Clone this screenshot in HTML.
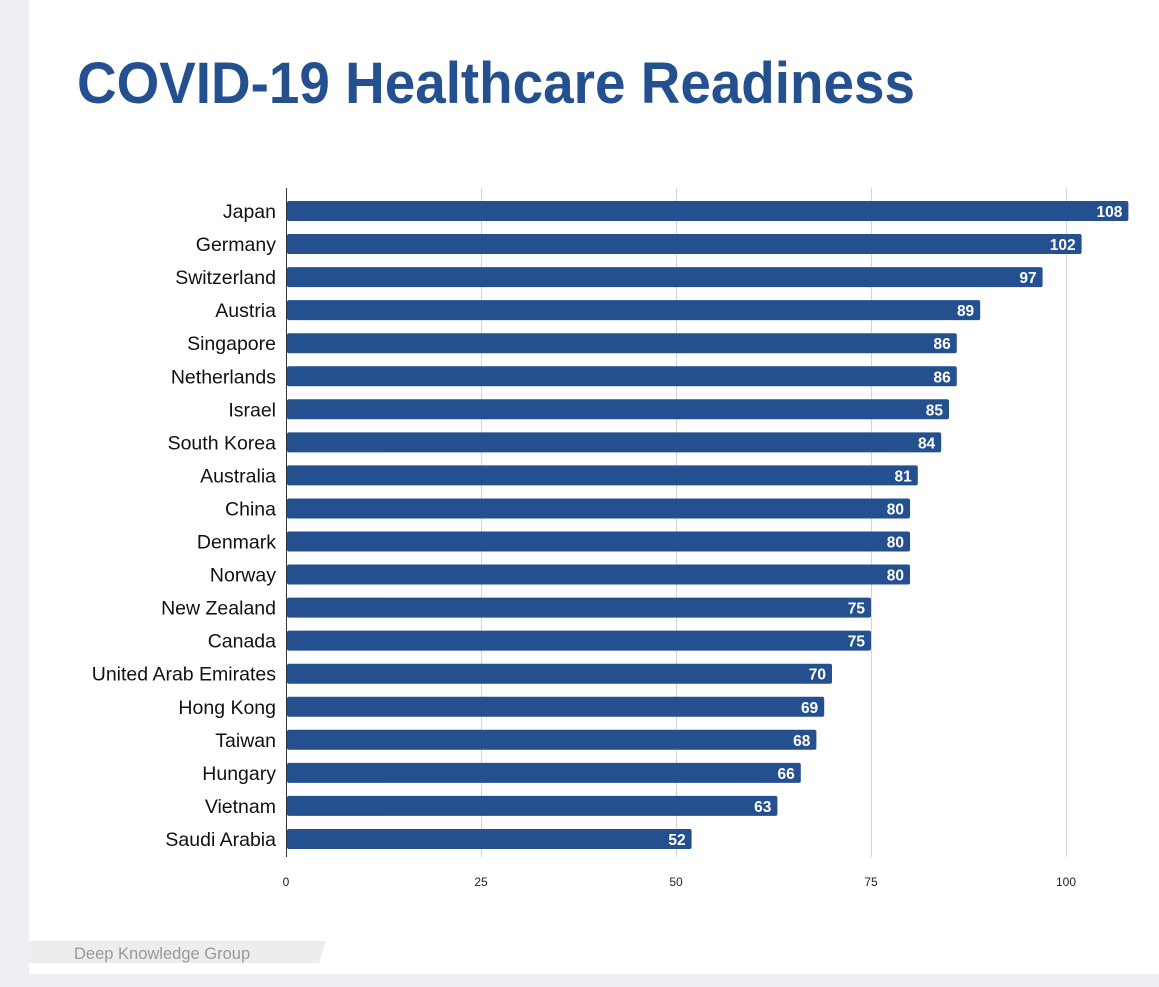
<!DOCTYPE html>
<html><head><meta charset="utf-8"><style>
html,body{margin:0;padding:0;background:#eeeef2;}
svg{display:block;font-family:"Liberation Sans",sans-serif;}
</style></head><body>
<svg id="chart" width="1159" height="987" viewBox="0 0 1159 987">
<rect x="0" y="0" width="1159" height="987" fill="#eeeef2"/>
<rect x="29" y="0" width="1135" height="974" fill="#ffffff"/>
<text x="77" y="103" font-size="58" font-weight="bold" fill="#24508f" textLength="838" lengthAdjust="spacingAndGlyphs">COVID-19 Healthcare Readiness</text>
<g id="grid"></g>
<g id="bars"></g>
<line x1="286.5" y1="188" x2="286.5" y2="857" stroke="#333" stroke-width="1"/>
<polygon points="29,941 326,941 319,963 29,963" fill="#ededed"/>
<text x="74" y="959" font-size="16.5" fill="#999">Deep Knowledge Group</text>
</svg>
<script>
const categories = ["Japan","Germany","Switzerland","Austria","Singapore","Netherlands","Israel","South Korea","Australia","China","Denmark","Norway","New Zealand","Canada","United Arab Emirates","Hong Kong","Taiwan","Hungary","Vietnam","Saudi Arabia"];
const values = [108,102,97,89,86,86,85,84,81,80,80,80,75,75,70,69,68,66,63,52];
const ticks = [0,25,50,75,100];
const NS="http://www.w3.org/2000/svg";
const x0=286, pxPer=7.8, yTop=211, step=33.05, barH=20;
const xs=v=>x0+v*pxPer;
const ys=i=>yTop+i*step;
const grid=document.getElementById('grid'), bars=document.getElementById('bars');
function mk(tag,attrs,parent){const e=document.createElementNS(NS,tag);for(const k in attrs)e.setAttribute(k,attrs[k]);parent.appendChild(e);return e;}
ticks.forEach(t=>{
  const l=mk('line',{x1:xs(t)+0.5,y1:188,x2:xs(t)+0.5,y2:857,stroke:'#d4d4d4','stroke-width':1},grid);
  
  
  const tx=mk('text',{x:xs(t),y:886,'font-size':12,fill:'#222','text-anchor':'middle'},grid);
  tx.textContent=t;
  
  
});
categories.forEach((c,i)=>{
  const y=ys(i);
  const lab=mk('text',{x:276,y:y+7,'font-size':19.5,fill:'#111','text-anchor':'end'},bars);
  lab.textContent=c;
  
  
  const r=mk('rect',{x:x0+1,y:y-barH/2,width:xs(values[i])-x0-1,height:barH,rx:2,fill:'#24508f'},bars);
  
  
  const v=mk('text',{x:xs(values[i])-6,y:y+6,'font-size':15.5,'font-weight':'bold',fill:'#fff','text-anchor':'end'},bars);
  v.textContent=values[i];
  
  
});
</script>
</body></html>
